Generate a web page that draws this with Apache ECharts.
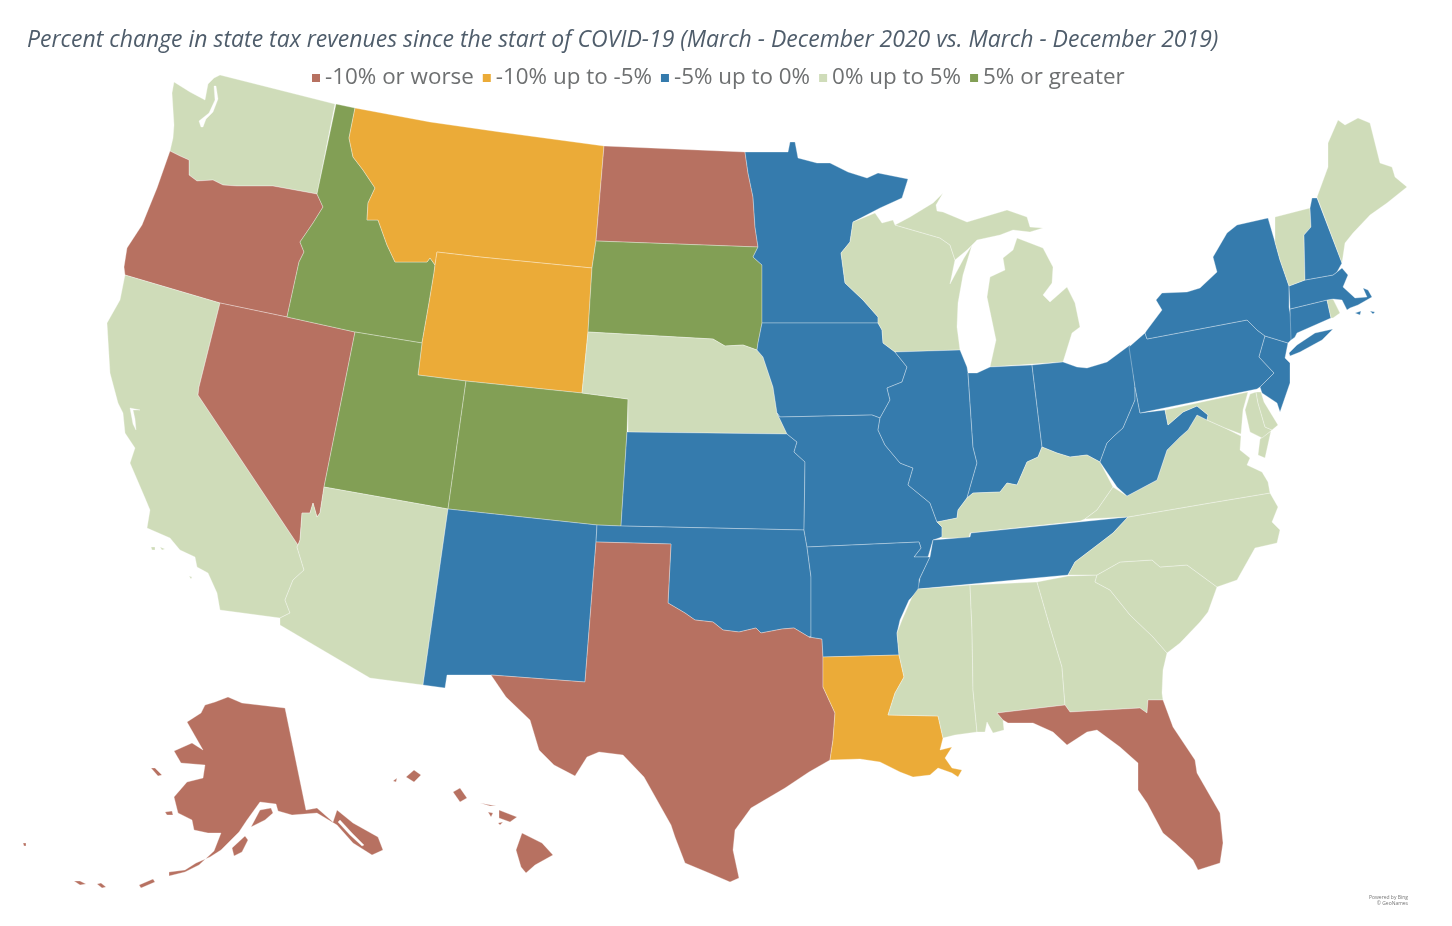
<!DOCTYPE html>
<html><head><meta charset="utf-8">
<style>html,body{margin:0;padding:0;background:#fff}#c{width:1452px;height:926px}</style>
<script src="https://cdn.jsdelivr.net/npm/echarts@6/dist/echarts.min.js"></script>
</head><body><div id="c"></div>
<script>
const titleText = 'Percent change in state tax revenues since the start of COVID-19 (March - December 2020 vs. March - December 2019)';
const binLabels = ['-10% or worse','-10% up to -5%','-5% up to 0%','0% up to 5%','5% or greater'];
const binColors = ['#B77161','#EBAB38','#357BAD','#CFDCB9','#829F55'];
const statesWorst = ['Oregon','Nevada','North Dakota','Texas','Florida','Alaska','Hawaii'];
const statesLow = ['Montana','Wyoming','Louisiana'];
const statesSlightDown = ['Minnesota','Iowa','Missouri','Kansas','Oklahoma','Arkansas','New Mexico','Illinois','Indiana','Ohio','Pennsylvania','New York','New Jersey','West Virginia','Tennessee','Massachusetts','Connecticut','New Hampshire'];
const statesSlightUp = ['Washington','California','Arizona','Nebraska','Wisconsin','Michigan','Kentucky','Virginia','North Carolina','South Carolina','Georgia','Alabama','Mississippi','Maine','Vermont','Rhode Island','Maryland','Delaware'];
const statesBest = ['Idaho','Utah','Colorado','South Dakota'];

// State outlines (map geometry; y runs downward)
const outlines = {
'Washington':[[174,82,190,92,205,100,208,84,214,78,220,75,335,104,317,194,273,186,237,186,223,185,213,180,197,181,189,175,189,160,180,156,170,151,173,138,174,125,172,93]],
'Oregon':[[170,151,180,156,189,160,189,175,197,181,213,180,223,185,237,186,273,186,317,194,323,207,313,223,300,242,304,252,299,262,287,317,220,303,125,275,124,267,127,248,142,225,157,188]],
'California':[[125,275,220,303,199,387,198,395,298,545,297,547,304,570,293,580,285,600,290,613,280,618,220,610,217,593,208,573,197,567,195,557,180,550,170,538,147,528,150,510,145,498,130,463,135,448,125,433,123,413,118,403,110,373,107,323,120,300],[151,547,155,547,155,550,152,550],[160,547,165,549,162,550],[189,576,192,577,191,579]],
'Nevada':[[220,303,287,317,355,332,324,487,320,513,317,517,313,503,310,513,302,513,300,540,298,545,198,395,199,387]],
'Idaho':[[336,104,355,108,349,138,353,157,363,170,375,188,368,203,367,220,378,220,387,245,395,262,427,262,430,258,435,265,434,273,429,303,422,343,355,332,287,317,299,262,304,252,300,242,313,223,323,207,317,194]],
'Montana':[[355,108,430,122,500,132,604,146,596,241,592,268,480,257,437,252,435,265,430,258,427,262,395,262,387,245,378,220,367,220,368,203,375,188,363,170,353,157,349,138]],
'Wyoming':[[437,252,480,257,592,268,588,332,582,393,466,381,418,375,422,343,429,303,434,273,435,265]],
'Utah':[[355,332,422,343,418,375,466,381,448,509,324,487]],
'Colorado':[[466,381,582,393,628,399,627,432,621,526,597,525,448,509]],
'Arizona':[[324,487,448,509,423,685,370,678,280,625,280,618,290,613,285,600,293,580,304,570,297,547,298,545,300,540,302,513,310,513,313,503,317,517,320,513]],
'New Mexico':[[448,509,597,525,596,542,585,682,491,675,447,675,445,688,423,685]],
'North Dakota':[[604,146,745,152,748,173,753,197,755,227,758,247,596,241]],
'South Dakota':[[596,241,758,247,753,257,762,265,762,323,758,343,757,350,743,345,725,346,713,339,588,332,592,268]],
'Nebraska':[[588,332,713,339,725,346,743,345,757,350,763,357,773,387,777,413,787,434,628,432,628,399,582,393]],
'Kansas':[[627,432,787,434,797,442,794,452,805,462,804,530,621,526]],
'Oklahoma':[[597,525,621,526,804,530,807,547,811,577,811,637,809,637,794,628,782,629,761,633,756,628,739,632,723,630,713,622,695,620,685,613,668,603,671,544,596,542]],
'Texas':[[596,542,671,544,668,603,685,613,695,620,713,622,723,630,739,632,756,628,761,633,782,629,794,628,809,637,822,639,823,657,823,687,835,713,833,740,830,760,809,772,785,788,751,808,735,830,733,850,739,878,730,882,709,873,685,863,675,837,671,825,644,777,623,755,599,752,587,757,575,776,554,765,539,750,530,720,506,697,491,675,585,682]],
'Minnesota':[[745,152,788,152,790,142,795,142,798,158,817,163,830,163,848,172,867,178,878,173,908,179,902,198,880,208,853,222,850,242,841,253,845,283,863,300,878,317,878,323,762,323,762,265,753,257,758,247,755,227,753,197,748,173]],
'Iowa':[[762,323,878,323,882,330,883,343,895,352,907,367,902,382,887,388,890,400,880,418,872,415,780,417,777,413,773,387,763,357,757,350,758,343]],
'Missouri':[[780,417,872,415,880,418,878,430,885,445,900,463,905,465,913,468,908,485,930,503,937,522,942,527,942,537,933,540,928,557,914,557,921,548,919,542,807,547,804,530,805,462,794,452,797,442,787,434,777,413]],
'Arkansas':[[807,547,919,542,921,548,914,557,930,557,919,580,919,590,909,600,900,620,897,633,899,655,823,657,822,639,809,637,811,637,811,577]],
'Louisiana':[[823,657,899,655,904,677,895,693,888,715,938,716,943,738,940,750,952,747,945,758,952,768,962,770,958,777,952,773,938,768,930,775,913,777,900,772,880,762,860,759,830,760,833,740,835,713,823,687]],
'Wisconsin':[[853,222,875,213,882,223,893,220,895,225,940,238,950,245,955,260,950,284,964,258,972,245,963,275,958,303,957,327,960,350,895,352,883,343,882,330,878,323,878,317,863,300,845,283,841,253,850,242]],
'Illinois':[[895,352,960,350,967,367,968,373,973,447,977,463,967,498,958,510,957,518,937,522,930,503,908,485,913,468,905,465,900,463,885,445,878,430,880,418,890,400,887,388,902,382,907,367]],
'Michigan':[[895,225,910,217,933,203,943,193,936,205,937,211,943,212,967,222,1007,210,1027,217,1030,227,1043,228,1030,232,1013,230,1000,235,977,240,967,250,955,260,950,245,940,238],[1017,238,1043,248,1053,267,1052,283,1043,295,1050,302,1067,287,1075,303,1080,327,1072,333,1063,362,990,367,996,340,987,297,990,277,1005,270,1003,258,1013,250]],
'Indiana':[[968,373,977,373,990,367,1032,365,1042,447,1038,457,1027,462,1017,485,1007,483,1000,492,973,493,967,498,977,463,973,447]],
'Ohio':[[1032,365,1063,362,1077,367,1087,368,1107,362,1130,345,1135,387,1135,400,1123,428,1113,437,1107,443,1100,462,1087,455,1070,457,1057,453,1042,447]],
'Kentucky':[[1042,447,1057,453,1070,457,1087,455,1100,462,1113,487,1097,510,1085,519,1080,521,970,533,969,538,940,538,942,537,942,527,937,522,957,518,958,510,967,498,973,493,1000,492,1007,483,1017,485,1027,462,1038,457]],
'Tennessee':[[933,540,970,537,971,533,1128,517,1113,533,1100,543,1075,562,1068,575,918,589,920,578,930,557]],
'Mississippi':[[918,589,970,585,972,630,973,690,977,732,955,735,943,738,938,716,888,715,895,693,904,677,899,655,897,633,902,620,912,597]],
'Alabama':[[970,585,1037,582,1050,627,1062,667,1065,705,997,713,1003,720,1004,730,993,733,987,722,985,732,977,732,973,690,972,630]],
'Georgia':[[1037,582,1068,576,1097,575,1095,582,1110,590,1130,615,1153,637,1167,653,1163,670,1162,693,1163,700,1148,700,1147,713,1140,708,1070,712,1065,705,1062,667,1050,627]],
'Florida':[[997,713,1065,705,1070,712,1140,708,1147,713,1148,700,1163,700,1173,727,1195,760,1197,773,1220,813,1223,843,1220,863,1198,870,1193,860,1175,843,1163,833,1147,803,1138,790,1138,763,1120,747,1097,730,1087,732,1067,745,1053,732,1033,723,1008,723,1003,720]],
'South Carolina':[[1097,575,1120,562,1152,560,1160,567,1187,565,1217,587,1208,612,1200,622,1180,643,1167,653,1153,637,1130,615,1110,590,1095,582]],
'North Carolina':[[1128,517,1210,503,1270,493,1278,507,1272,522,1280,530,1277,543,1255,548,1237,580,1217,587,1187,565,1160,567,1152,560,1120,562,1097,575,1068,575,1075,562,1100,543,1113,533]],
'Virginia':[[1085,519,1097,510,1113,487,1127,496,1157,480,1167,450,1180,437,1188,430,1197,415,1207,420,1225,428,1241,436,1240,450,1250,458,1247,465,1262,472,1268,482,1270,493,1210,503,1128,517],[1260,439,1271,431,1265,458,1258,455]],
'West Virginia':[[1135,387,1140,413,1165,410,1168,425,1183,412,1197,406,1208,415,1207,420,1197,415,1188,430,1180,437,1167,450,1157,480,1127,496,1117,487,1100,462,1107,443,1113,437,1123,428,1135,400]],
'Maryland':[[1165,410,1248,392,1243,410,1241,434,1225,428,1207,420,1208,415,1197,406,1183,412,1168,425],[1250,394,1256,392,1258,403,1265,427,1272,430,1262,438,1250,432,1245,410]],
'Delaware':[[1256,392,1261,392,1264,402,1278,425,1272,430,1265,427,1258,403]],
'Pennsylvania':[[1129,347,1145,333,1147,339,1247,320,1257,330,1265,336,1259,357,1274,373,1260,387,1257,389,1140,413,1135,387]],
'New Jersey':[[1265,336,1288,343,1285,358,1290,363,1290,383,1280,412,1277,403,1262,393,1260,387,1274,373,1259,357]],
'New York':[[1268,218,1237,225,1227,233,1213,257,1217,272,1200,288,1187,292,1162,293,1156,300,1162,310,1147,330,1145,333,1147,339,1247,320,1257,330,1265,336,1288,343,1291,340,1295,337,1289,307,1289,286,1280,260,1275,242],[1289,353,1297,345,1315,333,1333,329,1322,340,1300,352,1290,356]],
'Connecticut':[[1290,309,1327,300,1331,318,1297,333,1295,337,1291,340]],
'Rhode Island':[[1327,300,1333,299,1340,313,1333,318,1331,318]],
'Massachusetts':[[1289,286,1305,280,1333,275,1337,272,1342,268,1348,275,1343,287,1355,298,1367,297,1363,288,1368,290,1372,297,1358,305,1350,308,1347,310,1342,300,1333,299,1327,300,1290,309],[1355,313,1361,311,1360,315],[1370,311,1375,312,1373,314]],
'Vermont':[[1275,217,1310,208,1311,227,1304,235,1305,280,1289,286,1280,260,1275,242]],
'New Hampshire':[[1310,208,1312,198,1317,198,1342,263,1337,272,1333,275,1305,280,1304,235,1311,227]],
'Maine':[[1317,197,1328,167,1328,143,1338,120,1345,125,1358,118,1370,123,1380,163,1392,167,1395,177,1407,187,1387,203,1370,215,1353,233,1345,243,1342,263]],
'Alaska':[[228,697,242,703,285,708,306,810,317,808,333,822,337,810,353,823,378,837,383,850,372,855,353,843,337,825,317,813,292,815,278,811,276,804,260,802,247,820,239,832,221,850,210,857,196,863,185,870,169,872,169,876,185,872,199,865,214,851,221,833,208,833,194,830,192,820,178,813,174,797,187,782,203,778,205,765,181,763,174,751,192,743,203,750,187,722,201,713,205,705,215,702],[251,827,260,810,271,808,273,813,265,820],[232,848,245,836,248,840,242,852,234,856],[151,768,155,768,162,775,158,776],[165,812,172,811,173,815,167,815],[139,885,153,879,155,882,141,888],[74,881,80,881,86,884,80,885],[97,884,101,883,106,887,102,888],[23,843,26,843,26,846,24,846]],
'Hawaii':[[414,770,421,775,414,782,406,777],[393,781,397,778,396,782],[453,792,460,788,467,798,460,802],[480,803,496,806,490,806],[488,812,493,813,491,817],[499,810,517,817,510,822,499,818],[498,823,503,822,500,825],[522,833,542,843,553,855,535,865,526,873,521,867,516,850]]
};
// Water inside a state's outline (inlets drawn white in the picture)
const inlets = {
'Washington':[[216,86,214,86,215,100,209,113,199,121,201,127,203,127,206,119,213,112,218,99]],
'California':[[130,408,133,424,136,430,135,419,133,410,140,410]],
'Alaska':[[338,822,350,835,362,846,364,845,352,833,340,820]]
};

const groups = [statesWorst, statesLow, statesSlightDown, statesSlightUp, statesBest];
const flip = r => { const o=[]; for(let i=0;i<r.length;i+=2) o.push([r[i],-r[i+1]]); o.push([r[0],-r[1]]); return o; };
const features = Object.keys(outlines).map(name => ({
  type:'Feature', properties:{name},
  geometry:{type:'MultiPolygon', coordinates: outlines[name].map((r,i)=> i===0 && inlets[name] ? [flip(r)].concat(inlets[name].map(flip)) : [flip(r)])}
}));
echarts.registerMap('us',{type:'FeatureCollection',features});
let x0=1e9,x1=-1e9,y0=1e9,y1=-1e9;
Object.values(outlines).flat().forEach(r=>{for(let i=0;i<r.length;i+=2){x0=Math.min(x0,r[i]);x1=Math.max(x1,r[i]);y0=Math.min(y0,r[i+1]);y1=Math.max(y1,r[i+1]);}});
const seriesData = groups.flatMap((g,i)=>g.map(name=>({name,value:i})));

const chart = echarts.init(document.getElementById('c'),null,{renderer:'canvas'});
chart.setOption({
  backgroundColor:'#fff', animation:false,
  title:{text:titleText,left:22,top:24,textStyle:{fontFamily:'Open Sans',fontStyle:'italic',fontWeight:400,fontSize:23,color:'#4F5D6B'}},
  visualMap:{type:'piecewise',orient:'horizontal',left:297,top:52,itemWidth:8,itemHeight:8,itemSymbol:'rect',itemGap:9,textGap:5,selectedMode:false,hoverLink:false,
    textStyle:{fontFamily:'Open Sans',fontSize:22.4,color:'#6E7071'},
    pieces:binLabels.map((label,i)=>({value:i,label,color:binColors[i]}))},
  series:[{type:'map',map:'us',aspectScale:1,roam:false,silent:true,left:x0,top:y0,width:x1-x0,height:y1-y0,
    label:{show:false},emphasis:{disabled:true},select:{disabled:true},
    itemStyle:{borderColor:'rgba(255,255,255,0.35)',borderWidth:0.9},
    data:seriesData}],
  graphic:[{type:'text',right:44,top:895,silent:true,style:{text:'Powered by Bing',fontSize:5,fill:'#777',fontFamily:'Open Sans'}},
           {type:'text',right:44,top:901,silent:true,style:{text:'© GeoNames',fontSize:5,fill:'#777',fontFamily:'Open Sans'}}]
});
</script></body></html>
